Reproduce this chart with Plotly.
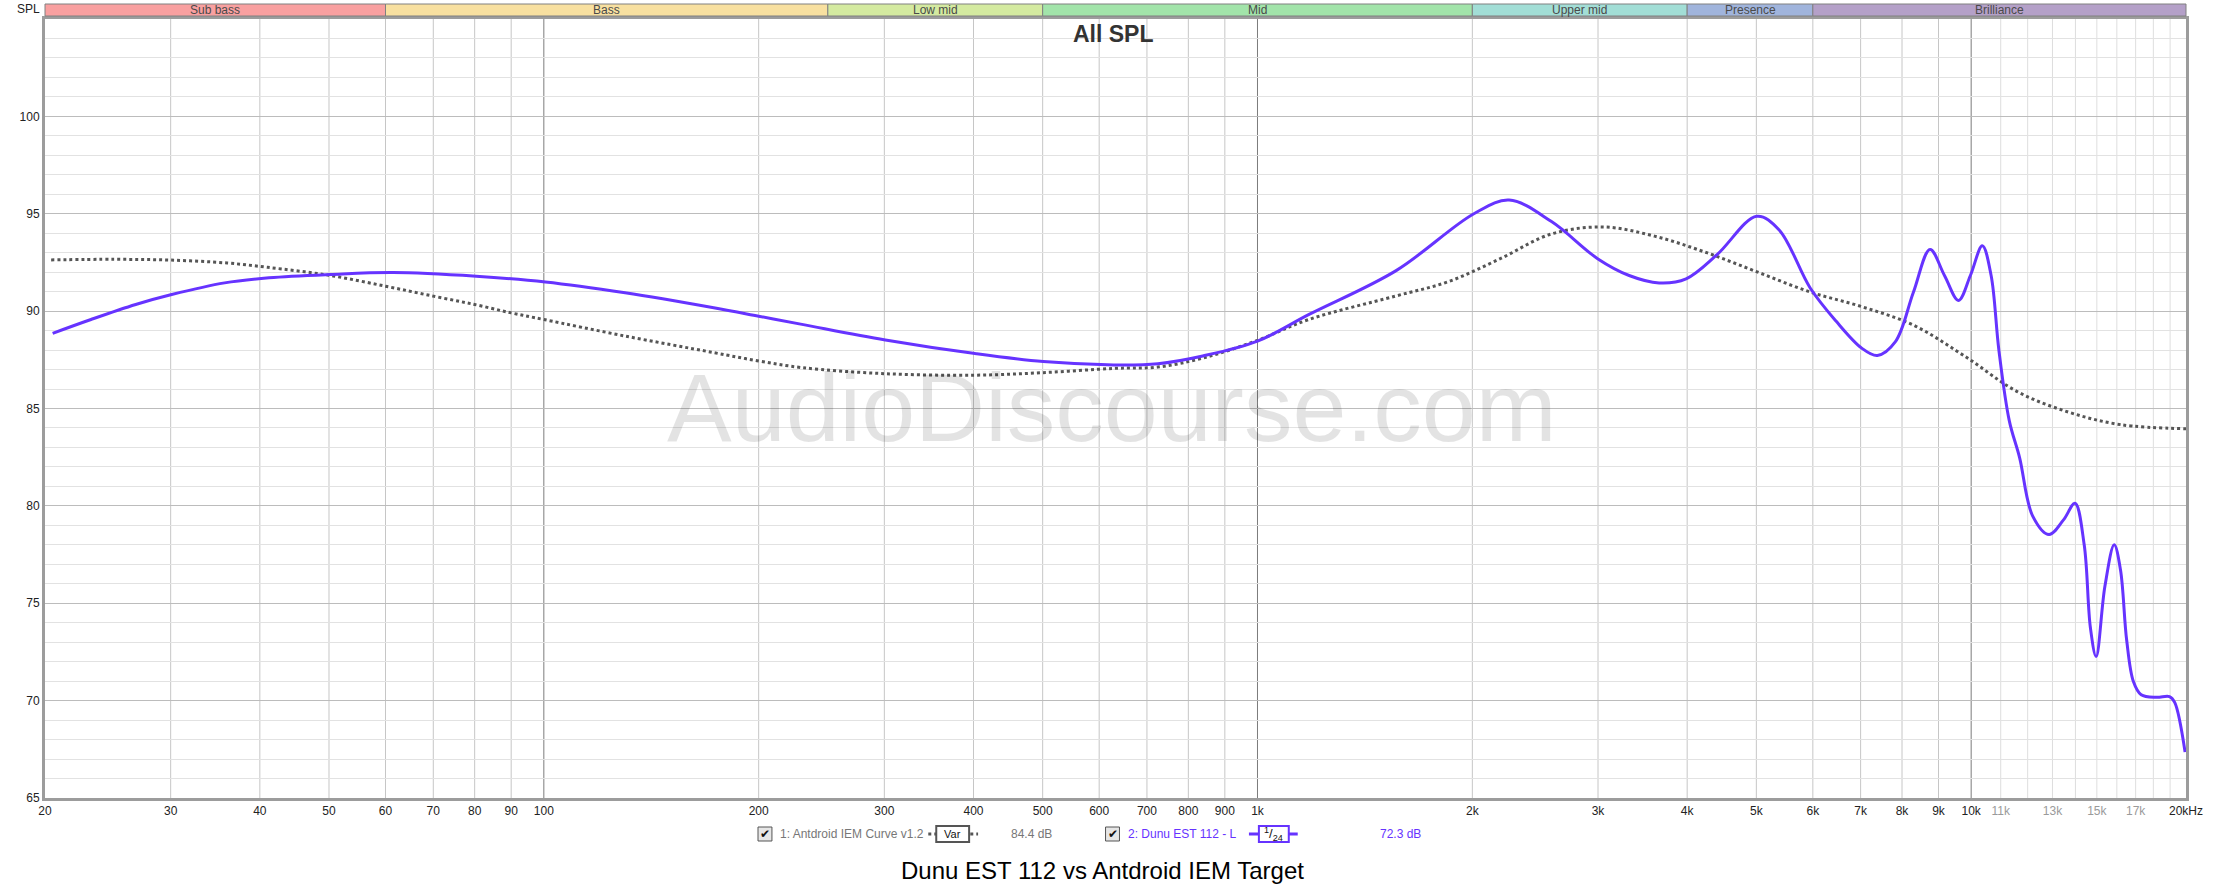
import math
import plotly.graph_objects as go

# Antdroid IEM Curve v1.2 (dotted grey target)
target_freq = [20.4, 25, 30, 36, 41, 50, 60, 70, 80, 90, 100, 130, 173, 200, 230, 300, 400, 500,
               630, 725, 840, 1000, 1180, 1560, 1850, 2185, 2580, 3050, 3600, 4260, 5025, 5950,
               7025, 8300, 9800, 11600, 13700, 16200, 20000]
target_spl = [92.63, 92.66, 92.62, 92.47, 92.25, 91.84, 91.28, 90.77, 90.34, 89.91, 89.57, 88.72,
              87.87, 87.44, 87.10, 86.79, 86.71, 86.84, 87.06, 87.13, 87.60, 88.50, 89.57, 90.77,
              91.51, 92.68, 93.96, 94.32, 93.85, 93.00, 92.00, 90.98, 90.23, 89.28, 87.68, 85.87,
              84.81, 84.17, 83.96]

# Dunu EST 112 - L (purple)
dunu_freq = [20.5, 23.2, 26.8, 30.1, 35.7, 41.2, 50.2, 61.5, 80.4, 100.5, 130, 173, 200, 230, 301,
             402, 501, 629, 725, 838, 1000, 1181, 1564, 2010, 2252, 2582, 3000, 3317, 3654, 3986,
             4405, 5008, 5382, 5949, 6466, 7025, 7387, 7832, 8302, 8757, 9175, 9599, 9975, 10367,
             10665, 10935, 11308, 11693, 12192, 12858, 13471, 13978, 14401, 14692, 14966, 15396,
             15864, 16189, 16516, 16878, 17306, 18188, 18966, 19284, 19940]
dunu_spl = [88.86, 89.57, 90.34, 90.85, 91.45, 91.71, 91.88, 91.98, 91.79, 91.50, 90.94, 90.17,
            89.74, 89.32, 88.52, 87.82, 87.41, 87.24, 87.30, 87.70, 88.46, 89.83, 92.08, 95.00,
            95.70, 94.60, 92.68, 91.83, 91.45, 91.66, 92.90, 94.87, 94.17, 91.19, 89.49, 88.10,
            87.72, 88.43, 90.98, 93.17, 91.83, 90.55, 91.83, 93.36, 91.83, 88.00, 84.38, 82.47,
            79.49, 78.53, 79.28, 80.13, 78.00, 73.74, 72.26, 75.87, 78.00, 76.72, 73.10, 70.98,
            70.30, 70.17, 70.21, 69.91, 67.36]

band_names = ['Sub bass', 'Bass', 'Low mid', 'Mid', 'Upper mid', 'Presence', 'Brilliance']
band_edges = [20, 60, 250, 500, 2000, 4000, 6000, 20000]
band_colors = ['#f9a0a0', '#f8e0a0', '#d4eaa0', '#a2e4aa', '#a2ded6', '#a0b4dc', '#b4a0c8']

tick_freqs = [20, 30, 40, 50, 60, 70, 80, 90, 100, 200, 300, 400, 500, 600, 700, 800, 900,
              1000, 2000, 3000, 4000, 5000, 6000, 7000, 8000, 9000, 10000, 11000, 13000, 15000,
              17000, 20000]
tick_text = ['20', '30', '40', '50', '60', '70', '80', '90', '100', '200', '300', '400', '500',
             '600', '700', '800', '900', '1k', '2k', '3k', '4k', '5k', '6k', '7k', '8k', '9k',
             '10k', '<span style="color:#9a9a9a">11k</span>', '<span style="color:#9a9a9a">13k</span>',
             '<span style="color:#9a9a9a">15k</span>', '<span style="color:#9a9a9a">17k</span>', '20kHz']
grid_freqs = [30, 40, 50, 60, 70, 80, 90, 200, 300, 400, 500, 600, 700, 800, 900,
              2000, 3000, 4000, 5000, 6000, 7000, 8000, 9000]
decade_freqs = [100, 1000, 10000]
high_freqs = [11000, 12000, 13000, 14000, 15000, 16000, 17000, 18000, 19000]

SANS = 'Liberation Sans, Arial'
PURPLE = '#6633ff'

W, H = 2215, 890
L, R, T, B = 45, 20, 19, 92
PW, PH = W - L - R, H - T - B


def px(x):
	return (x - L) / PW


def py(y):
	return (H - B - y) / PH


def fpos(f):
	return math.log10(f / 20) / 3


def label(text, x, y, size, color, xref='paper', xanchor='center', family=SANS):
	return dict(text=text, xref=xref, yref='paper', x=x, y=y, xanchor=xanchor, yanchor='middle',
				showarrow=False, font=dict(family=family, size=size, color=color))


fig = go.Figure()

fig.add_trace(go.Scatter(
	x=target_freq, y=target_spl, mode='lines', line_shape='spline',
	line=dict(color='#555555', width=3, dash='dot'), hoverinfo='skip'
))
fig.add_trace(go.Scatter(
	x=dunu_freq, y=dunu_spl, mode='lines', line_shape='spline',
	line=dict(color=PURPLE, width=3), hoverinfo='skip'
))

shapes = []
for freqs, col in [(grid_freqs, '#c6c6c6'), (high_freqs, '#dedede'), (decade_freqs, '#7c7c7c')]:
	for f in freqs:
		shapes.append(dict(type='line', xref='x domain', yref='y domain', x0=fpos(f), x1=fpos(f),
						   y0=0, y1=1, line=dict(color=col, width=1), layer='below'))

annotations = []
for name, lo, hi, col in zip(band_names, band_edges[:-1], band_edges[1:], band_colors):
	shapes.append(dict(type='rect', xref='x domain', yref='paper', x0=fpos(lo), x1=fpos(hi),
					   y0=py(16), y1=py(4), fillcolor=col, line=dict(color='#808080', width=1)))
	annotations.append(label(name, fpos(math.sqrt(lo * hi)), py(10), 12, '#4a4a4a', xref='x domain'))

# watermark
annotations.append(label('AudioDiscourse.com', px(1116), py(407), 97, 'rgba(0,0,0,0.11)'))

annotations.append(label('SPL', px(28), py(9), 12, '#222222'))
annotations.append(label('<b>All SPL</b>', px(1118), py(34), 23, '#333333'))
annotations.append(label('Dunu EST 112 vs Antdroid IEM Target', px(1107), py(870), 24, '#000000'))

# legend row
ly = 834
for cx in [768, 1117]:
	shapes.append(dict(type='rect', xref='paper', yref='paper', x0=px(cx - 7), x1=px(cx + 7),
					   y0=py(ly + 7), y1=py(ly - 7), fillcolor='#e6e6e6', line=dict(color='#555555', width=1)))
	annotations.append(label('✔', px(cx), py(ly), 12, '#111111', family='DejaVu Sans'))

shapes.append(dict(type='line', xref='paper', yref='paper', x0=px(932), x1=px(982), y0=py(ly), y1=py(ly),
				   line=dict(color='#555555', width=3, dash='dot')))
shapes.append(dict(type='rect', xref='paper', yref='paper', x0=px(940), x1=px(973), y0=py(ly + 8),
				   y1=py(ly - 8), fillcolor='white', line=dict(color='#555555', width=2)))
annotations.append(label('Var', px(956.5), py(ly), 11, '#111111'))

shapes.append(dict(type='line', xref='paper', yref='paper', x0=px(1254), x1=px(1303), y0=py(ly), y1=py(ly),
				   line=dict(color=PURPLE, width=3)))
shapes.append(dict(type='rect', xref='paper', yref='paper', x0=px(1264), x1=px(1294), y0=py(ly + 8),
				   y1=py(ly - 8), fillcolor='white', line=dict(color=PURPLE, width=2)))
annotations.append(label('<sup>1</sup>/<sub>24</sub>', px(1279), py(ly), 13, '#111111'))

legend_texts = [('1: Antdroid IEM Curve v1.2', 781, '#777777'), ('84.4 dB', 1013, '#777777'),
				('2: Dunu EST 112 - L', 1131, PURPLE), ('72.3 dB', 1384, PURPLE)]
for txt, x0, col in legend_texts:
	annotations.append(label(txt, px(x0), py(ly), 12, col, xanchor='left'))

fig.update_layout(
	width=W, height=H,
	margin=dict(l=L, r=R, t=T, b=B, pad=0),
	paper_bgcolor='white', plot_bgcolor='white',
	showlegend=False,
	shapes=shapes, annotations=annotations,
	xaxis=dict(
		type='log', range=[math.log10(20), math.log10(20000)],
		tickvals=tick_freqs, ticktext=tick_text, showgrid=False, zeroline=False,
		ticks='', tickfont=dict(family=SANS, size=12, color='#222222'), ticklabeloverflow='allow',
		showline=True, linecolor='#9c9c9c', linewidth=3, mirror=True
	),
	yaxis=dict(
		range=[65, 105], tickvals=[65, 70, 75, 80, 85, 90, 95, 100],
		showgrid=True, gridcolor='#bcbcbc', gridwidth=1, zeroline=False,
		minor=dict(dtick=1, showgrid=True, gridcolor='#e2e2e2'),
		ticks='', tickfont=dict(family=SANS, size=12, color='#222222'),
		showline=True, linecolor='#9c9c9c', linewidth=3, mirror=True
	)
)

fig.write_html("out.html", config={'displayModeBar': False},
			   post_script="document.body.style.margin = '0';")
